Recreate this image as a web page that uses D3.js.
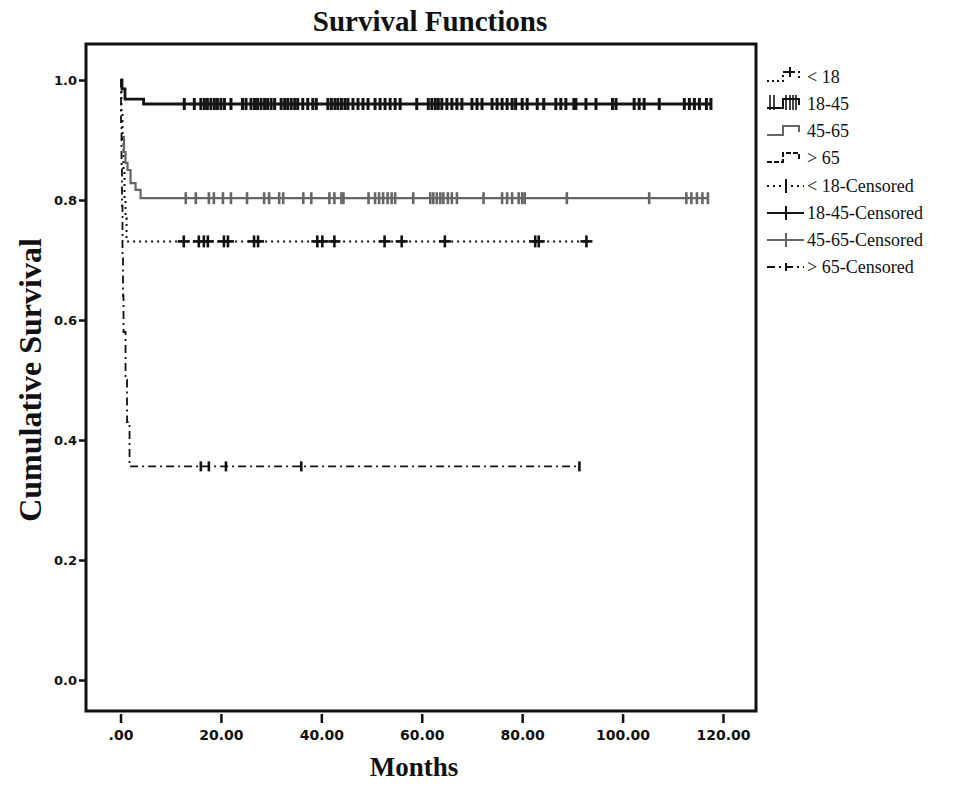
<!DOCTYPE html>
<html>
<head>
<meta charset="utf-8">
<title>Survival Functions</title>
<script src="https://d3js.org/d3.v7.min.js"></script>
<style>
  body { margin: 0; background: #fff; }
  .axis text { font-family: "DejaVu Sans", Arial, sans-serif; font-weight: bold; font-size: 14px; fill: #111; }
  .axis line { stroke: #111; stroke-width: 2.5; }
  .legend text { font-family: "Liberation Serif", "Times New Roman", serif; font-size: 18px; fill: #111; }
  .title { font-family: "Liberation Serif", "Times New Roman", serif; font-weight: bold; fill: #111; }
</style>
</head>
<body>
<script>
// ---- data ----
var groups = ["< 18", "18-45", "45-65", "> 65"];
var legendLabels = ["< 18", "18-45", "45-65", "> 65",
                    "< 18-Censored", "18-45-Censored", "45-65-Censored", "> 65-Censored"];

var xTicks = [0, 20, 40, 60, 80, 100, 120];
var xTickLabels = [".00", "20.00", "40.00", "60.00", "80.00", "100.00", "120.00"];
var yTicks = [0, 0.2, 0.4, 0.6, 0.8, 1.0];
var yTickLabels = ["0.0", "0.2", "0.4", "0.6", "0.8", "1.0"];

// step curves: time of each step (months) and survival after it
var lt18Times = [0, 0.2, 0.4, 0.6, 0.8, 1.0, 1.2];
var lt18Surv  = [1.0, 0.95, 0.9, 0.85, 0.8, 0.77, 0.731];
var lt18End = 93;
var lt18Censored = [12.6, 15.6, 16.6, 17.4, 20.6, 21.4, 26.6, 27.4, 39.2, 40.2, 42.6,
                    52.6, 56, 64.6, 82.6, 83.3, 92.8];

var a1845Times = [0, 0.3, 0.9, 4.6];
var a1845Surv  = [1.0, 0.985, 0.968, 0.96];
var a1845End = 117.8;
var a1845Censored = [12.7, 14.7, 16, 16.7, 17.3, 18, 18.7, 19.3, 20, 20.7, 22, 24.3, 25,
                     26, 26.7, 27.3, 28, 28.7, 29.3, 30, 30.7, 32, 32.7, 33.3, 34, 34.7, 35.3,
                     36.3, 37.3, 38.3, 39, 41.3, 42, 42.7, 43.3, 44, 44.7, 45.3, 46.3, 47.3,
                     48.3, 49.3, 50.7, 51.7, 52.7, 53.7, 54.7, 55.7, 59, 61.3, 62, 62.7, 63.3,
                     64, 65, 66, 67, 68, 70, 71, 72, 74, 75, 76, 77, 78, 78.7, 80, 81, 83,
                     84.3, 86.7, 87.7, 88.7, 90.3, 90.7, 92.7, 94.7, 98, 98.7, 102.3, 103.3,
                     104.3, 107.3, 112.3, 113.3, 114.3, 115.3, 116.7, 117.6];

var a4565Times = [0.3, 0.7, 1.0, 1.4, 2.0, 3.0, 4.0];
var a4565Surv  = [0.905, 0.88, 0.862, 0.85, 0.828, 0.817, 0.803];
var a4565End = 117;
var a4565Censored = [13, 15, 17.6, 18.6, 20.4, 22, 25.2, 28.6, 29.6, 31.6, 32.4, 36.4, 38,
                     41.6, 42.6, 44, 44.4, 49.4, 50.7, 51.5, 52.3, 53.2, 54, 54.7, 58.3, 61.7,
                     62.3, 63, 63.7, 64.3, 65.2, 66, 67, 72.3, 76, 77, 78, 79.3, 80, 80.5,
                     88.9, 105.3, 112.7, 113.7, 114.8, 115.9, 117];

var gt65Times = [0, 0.1, 0.2, 0.3, 0.4, 0.5, 0.6, 1.0, 1.3, 1.8];
var gt65Surv  = [1.0, 0.93, 0.86, 0.79, 0.71, 0.64, 0.58, 0.5, 0.43, 0.356];
var gt65End = 91.5;
var gt65Censored = [16, 17.6, 21, 36, 91.4];

// ---- layout ----
var width = 963, height = 785;
var frameLeft = 86, frameTop = 44, frameRight = 756, frameBottom = 711;

var svg = d3.select("body").append("svg")
    .attr("width", width)
    .attr("height", height);

var x = d3.scaleLinear().domain([0, 120]).range([120.5, 723]);
var y = d3.scaleLinear().domain([0, 1]).range([680, 80]);

// title and axis labels
svg.append("text").attr("class", "title")
   .attr("x", 430).attr("y", 31)
   .attr("text-anchor", "middle")
   .attr("font-size", "29px")
   .text("Survival Functions");

svg.append("text").attr("class", "title")
   .attr("x", 414).attr("y", 776)
   .attr("text-anchor", "middle")
   .attr("font-size", "27px")
   .text("Months");

svg.append("text").attr("class", "title")
   .attr("transform", "translate(41," + 380 + ") rotate(-90)")
   .attr("text-anchor", "middle")
   .attr("font-size", "32px")
   .text("Cumulative Survival");

// frame
svg.append("rect")
   .attr("x", frameLeft).attr("y", frameTop)
   .attr("width", frameRight - frameLeft)
   .attr("height", frameBottom - frameTop)
   .attr("fill", "none")
   .attr("stroke", "#111")
   .attr("stroke-width", 3);

// axes
var xAxis = d3.axisBottom(x)
    .tickValues(xTicks)
    .tickFormat(function(d, i) { return xTickLabels[i]; })
    .tickSize(9)
    .tickPadding(7);

svg.append("g")
   .attr("class", "axis")
   .attr("transform", "translate(0," + (frameBottom + 3) + ")")
   .call(xAxis)
   .call(function(g) { g.select(".domain").remove(); });

var yAxis = d3.axisLeft(y)
    .tickValues(yTicks)
    .tickFormat(function(d, i) { return yTickLabels[i]; })
    .tickSize(8)
    .tickPadding(2);

svg.append("g")
   .attr("class", "axis")
   .attr("transform", "translate(" + (frameLeft + 1) + ",0)")
   .call(yAxis)
   .call(function(g) {
       g.select(".domain").remove();
       g.selectAll("text").attr("dy", "0.36em").style("font-size", "13px");
   });

// ---- curves ----
function survAt(times, surv, t) {
    var s = surv[0];
    for (var i = 0; i < times.length; i++) {
        if (times[i] <= t) s = surv[i];
    }
    return s;
}

var stepLine = d3.line()
    .x(function(d) { return x(d[0]); })
    .y(function(d) { return y(d[1]); })
    .curve(d3.curveStepAfter);

var curves = [
    {times: lt18Times, surv: lt18Surv, end: lt18End, cens: lt18Censored,
     color: "#111", width: 2, dash: "2,4", mark: "plus", markW: 2.6},
    {times: a1845Times, surv: a1845Surv, end: a1845End, cens: a1845Censored,
     color: "#141414", width: 2.8, dash: null, mark: "bar", markW: 3},
    {times: a4565Times, surv: a4565Surv, end: a4565End, cens: a4565Censored,
     color: "#666", width: 2.2, dash: null, mark: "bar", markW: 2.6},
    {times: gt65Times, surv: gt65Surv, end: gt65End, cens: gt65Censored,
     color: "#111", width: 1.8, dash: "8,4,2,4", mark: "small", markW: 2.6}
];

curves.forEach(function(c) {
    var pts = c.times.map(function(t, i) { return [t, c.surv[i]]; });
    pts.push([c.end, c.surv[c.surv.length - 1]]);

    svg.append("path")
       .datum(pts)
       .attr("d", stepLine)
       .attr("fill", "none")
       .attr("stroke", c.color)
       .attr("stroke-width", c.width)
       .attr("stroke-dasharray", c.dash);

    var g = svg.append("g")
       .attr("stroke", c.color)
       .attr("stroke-width", c.markW);

    c.cens.forEach(function(t) {
        var cx = x(t), cy = y(survAt(c.times, c.surv, t));
        var h = c.mark == "small" ? 5 : 6;
        g.append("line")
         .attr("x1", cx).attr("x2", cx)
         .attr("y1", cy - h).attr("y2", cy + h);
        if (c.mark == "plus") {
            g.append("line")
             .attr("x1", cx - 6).attr("x2", cx + 6)
             .attr("y1", cy).attr("y2", cy);
        }
    });
});

// ---- legend ----
var legendY = [77, 104, 131, 158, 186, 213, 240, 267];
var legend = svg.append("g").attr("class", "legend");

legendLabels.forEach(function(label, i) {
    var ly = legendY[i];
    var c = curves[i % 4];
    var sym = legend.append("g")
        .attr("stroke", c.color)
        .attr("fill", "none");

    if (i < 4) {
        // step shaped sample
        sym.append("path")
           .attr("d", "M767," + (ly + 4) + "H783V" + (ly - 5) + "H799V" + (ly + 1))
           .attr("stroke-width", 2)
           .attr("stroke-dasharray", i == 0 ? "2,3" : (i == 3 ? "5,2" : null));
        if (i == 0) {
            sym.append("path").attr("stroke-width", 2)
               .attr("d", "M790," + (ly - 10) + "V" + (ly) + "M785," + (ly - 5) + "H795");
        }
        if (i == 1) {
            [770, 774, 786, 790, 793, 796].forEach(function(bx) {
                sym.append("line").attr("stroke-width", 1.6)
                   .attr("x1", bx).attr("x2", bx)
                   .attr("y1", ly - 9).attr("y2", ly + 6);
            });
        }
    } else {
        sym.append("line")
           .attr("x1", 767).attr("x2", 804)
           .attr("y1", ly).attr("y2", ly)
           .attr("stroke-width", 2)
           .attr("stroke-dasharray", c.dash);
        var ph = i == 7 ? 4 : 7;
        sym.append("line")
           .attr("x1", 786).attr("x2", 786)
           .attr("y1", ly - ph).attr("y2", ly + ph)
           .attr("stroke-width", 2);
    }

    legend.append("text")
       .attr("x", 807)
       .attr("y", ly)
       .attr("dy", "0.35em")
       .text(label);
});
</script>
</body>
</html>
